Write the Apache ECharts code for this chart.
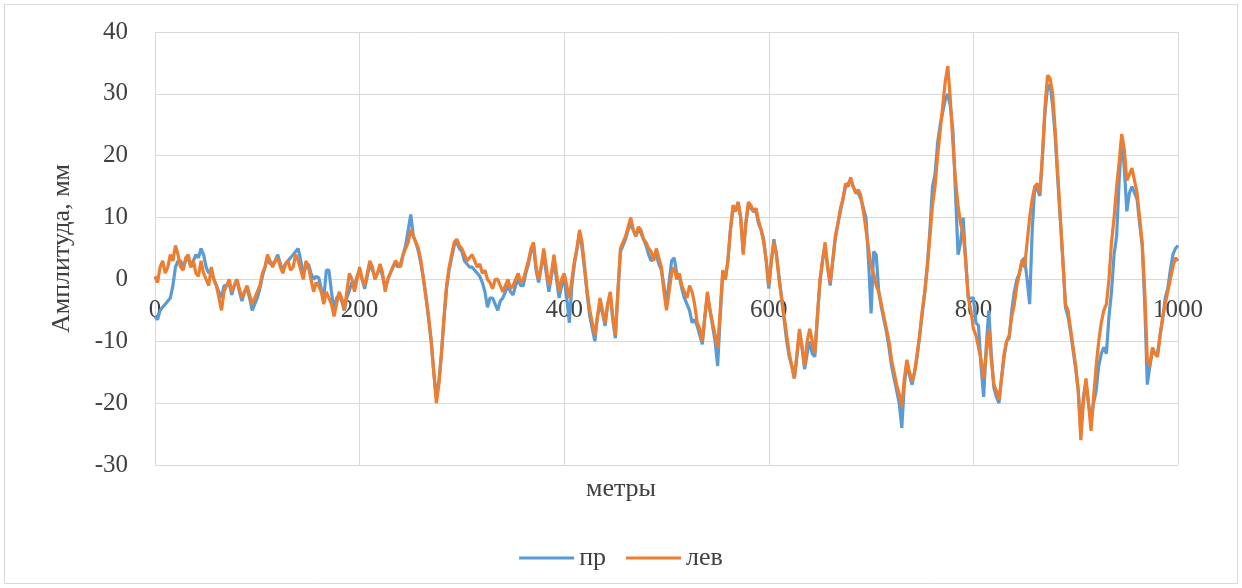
<!DOCTYPE html>
<html>
<head>
<meta charset="utf-8">
<script src="https://cdn.jsdelivr.net/npm/echarts@6/dist/echarts.min.js"></script>
<style>
  html, body { margin: 0; padding: 0; background: #fff; }
  #chart { width: 1242px; height: 588px; }
</style>
</head>
<body>
<div id="chart"></div>
<script>
// Distance along the track, metres (every 2.5 m)
const metres = [];
for (let i = 0; i <= 400; i++) metres.push(i * 2.5);

// Right rail amplitude, mm
const rightRail = [
  -6, -6.5, -5, -4.5, -4, -3.5, -3, -1, 2, 3, 3, 2, 3, 3.5, 2, 3, 4, 3.5, 5, 4,
  2, 1, 1.5, 0, -1, -2, -3, -1, -1, -0.5, -2.5, -1, 0, -2, -3.5, -2, -1.5, -3, -5, -4,
  -3, -1.5, 0.5, 2, 3.5, 2.5, 2.5, 3, 4, 2.5, 1.5, 2.5, 3, 3.5, 4, 4.5, 5, 3, 1, 2,
  2.5, 1, 0, 0.5, 0.3, -1.5, -3, 1.5, 1.5, -2, -5, -3, -2.5, -3.5, -5, -3, -1.8, -0.5, -1, 0.5,
  1.5, 0, -1.5, 0.5, 2.5, 1.5, 0.5, 1, 2, 0.5, -1.5, 0, 1, 2, 2.5, 2, 2.5, 4, 5.5, 8,
  10.5, 7, 6, 4.5, 2.5, 0, -3, -6.5, -10, -15, -19, -16.5, -12, -6.5, -1.5, 1.5, 3.5, 5.5, 6, 5,
  4.5, 3, 2.5, 2, 2, 1.5, 1, 0.5, -0.5, -2, -4.5, -3, -3, -4, -5, -3.5, -3, -2, -1, -2,
  -2.5, -1, 0, -1, -1, 1, 2.5, 4.5, 5.5, 1.5, -0.5, 2, 4, 1, -2, 0.5, 3, 0, -3, -1,
  0, -3, -7, -1, 2.5, 5, 7.5, 5, 1.5, -2.5, -6, -8, -10, -6, -4, -5.5, -7.5, -4, -2.5, -6.5,
  -9.5, -2, 4.5, 5.5, 6.5, 8, 9, 8, 7, 8, 7.5, 6.5, 5.5, 4, 3, 3.5, 4, 2.5, 1.5, -1,
  -4, -0.5, 3, 3.5, 1, 0.5, -1.5, -3, -4, -5, -7, -6.5, -7.5, -9, -10.5, -6, -2.5, -5, -7.5, -10,
  -14, -6, 1, 0, 3, 8, 11.5, 11, 12.5, 10, 4.5, 9, 12, 11.5, 11, 11, 9, 8, 6.5, 3,
  -1.5, 3, 6.5, 4, 0.5, -3, -6.5, -10, -12.5, -14, -16, -12.5, -8.5, -11, -14.5, -12, -10, -12, -12.5, -6,
  -0.5, 3, 5.5, 2, -1, 3, 6.5, 9, 11, 13, 15, 15.5, 16, 15, 14, 14, 13, 11.5, 10, 3,
  -5.5, 4.5, 4, -2, -4.5, -6.5, -8.5, -11, -14, -16, -18, -20, -24, -17, -13.5, -15.5, -17, -15, -12.5, -9,
  -5.5, -2, 2.5, 8, 15, 17, 22, 25, 27, 29, 30, 28, 24, 14, 4, 6, 10, 3, -3, -3,
  -3, -7, -7.5, -14, -19, -11, -5, -12, -17.5, -19, -20, -16, -12.5, -10, -9.5, -5, -2, 0, 1, 3,
  3.5, 0, -4, 8, 15, 14.5, 13.5, 20, 27, 31, 31.5, 28, 23, 16, 9.5, 3, -4.5, -6, -8.5, -11.5,
  -14.5, -18, -24.5, -19, -16.5, -20, -23, -20, -18, -14, -12, -11, -12, -6, -2, 4, 7, 16, 23, 18,
  11, 14, 15, 14, 13, 9, 5.5, -4, -17, -14, -11.5, -12, -12, -9, -6.5, -3, -1.5, 1.5, 4, 5,
  5.5
];

// Left rail amplitude, mm
const leftRail = [
  0.5, -0.5, 2, 3, 1, 2, 4, 3, 5.5, 4, 2, 1.5, 3.5, 4, 2, 3, 1, 0.5, 3, 1,
  0, -1, 2, 0, -1, -3, -5, -2, -1, 0, -2, -1, 0, -1.5, -3, -2, -1, -2.5, -4, -3,
  -2, -1, 1, 2, 4, 3, 2, 3, 3.5, 2, 1, 2.5, 3, 1.5, 2, 4, 3, 1.5, 0, 3,
  2, 0, -2, -0.5, -1, -2, -4, -2, -3, -4, -6, -4, -2, -3, -5, -2, 1, 0, -2, 0,
  2, 0, -1, 1, 3, 2, 0, 1, 2.5, 1, -2, 0, 1, 2, 3, 2.5, 2, 4, 5, 6,
  8, 7, 6, 5, 3, 0, -3, -6, -10, -15, -20, -17, -12, -6, -1, 2, 4, 6, 6.5, 5.5,
  5, 4, 3, 3.5, 4, 3, 2, 2.5, 1, 1.5, 0, -0.5, -1.5, 0, 0, -1, -2, -1, 0, -1.5,
  -1, 0, 1, -0.5, 0, 1.5, 3, 5, 6, 2, 0, 2, 5, 2, -1, 1, 4, 1, -2, 0,
  1, -1, -3, 0, 3, 5, 8, 6, 2, -2, -5, -7, -9, -6, -3, -5, -7, -4, -2, -6,
  -9, -2, 5, 6, 7, 8.5, 10, 8, 7, 8.5, 8, 6.5, 6, 5, 4.5, 3, 5, 3.5, 2, -2,
  -5, -2, 1, 2, 0, 1, -1, -2, -3, -1, -2, -4, -7, -8, -10, -6, -2, -5, -7, -9,
  -11, -5, 1.5, 0, 3, 8, 12, 11, 12.5, 10, 4, 9, 12.5, 12, 11, 11.5, 9.5, 8, 6, 3,
  -1, 3, 6, 4, 0, -3, -6, -9, -12, -14, -16, -12, -8, -11, -14, -10, -8, -10, -12, -6,
  0, 3, 6, 2, -0.5, 3, 7, 9, 11.5, 13, 15.5, 15, 16.5, 15, 14, 14.5, 13.5, 11, 8, 5,
  2, 1, -1, -2, -4, -6, -8, -10, -13, -15, -17, -18.5, -20.5, -16, -13, -15, -16.5, -15, -12, -9,
  -5, -2, 2, 7, 12, 15, 20, 24, 28, 32, 34.5, 29, 22, 16, 12, 9, 7.5, 3, -3, -5,
  -8, -9, -11, -13, -16, -12, -8, -13, -17, -18, -19.5, -16, -12, -10, -9, -6, -4, -1, 1, 3,
  2, 6, 10, 13, 15, 15.5, 14, 20, 28, 33, 32.5, 30, 24, 17, 10, 3, -4, -5, -8, -11,
  -14, -18, -26, -20, -16, -20, -24.5, -19, -14, -10, -7, -5, -4, 0, 6, 10, 15, 19, 23.5, 21,
  16, 17, 18, 16, 14, 10, 6, -2, -13, -14, -11, -12, -12.5, -9, -6, -4, -2, 0, 2, 3.5,
  3
];

const seriesNames = ['пр', 'лев'];
const xTicks = { min: 0, max: 1000, step: 200 };
const yTicks = { min: -30, max: 40, step: 10 };

const serif = '"Liberation Serif", "DejaVu Serif", serif';
const textColor = '#404040';
const gridColor = '#d9d9d9';

const toPairs = vals => metres.map((m, i) => [m, vals[i]]);

const chart = echarts.init(document.getElementById('chart'));
chart.setOption({
  animation: false,
  backgroundColor: '#ffffff',
  graphic: [
    {
      type: 'rect',
      shape: { x: 4.5, y: 4.5, width: 1233, height: 579 },
      style: { fill: 'none', stroke: '#d9d9d9', lineWidth: 1 },
      silent: true
    },
    {
      type: 'text',
      left: 'center',
      top: 476,
      style: { text: 'метры', font: '26px ' + serif, fill: textColor }
    }
  ],
  grid: { left: 155, right: 64, top: 32, bottom: 123 },
  legend: {
    bottom: 12,
    left: 'center',
    itemWidth: 55,
    itemHeight: 3,
    itemGap: 20,
    icon: 'rect',
    textStyle: { fontFamily: serif, fontSize: 26, color: textColor },
    data: seriesNames
  },
  xAxis: {
    type: 'value',
    min: xTicks.min,
    max: xTicks.max,
    interval: xTicks.step,
    axisLine: { show: false, onZero: false },
    axisTick: { show: false },
    // tick labels sit just under the zero line, inside the plot
    axisLabel: {
      margin: -167,
      fontFamily: serif,
      fontSize: 25,
      color: textColor,
      formatter: v => String(v)
    },
    splitLine: { show: true, lineStyle: { color: gridColor, width: 1 } }
  },
  yAxis: {
    type: 'value',
    min: yTicks.min,
    max: yTicks.max,
    interval: yTicks.step,
    name: 'Амплитуда, мм',
    nameLocation: 'middle',
    nameGap: 80,
    nameTextStyle: { fontFamily: serif, fontSize: 26, color: textColor },
    axisLine: { show: false },
    axisTick: { show: false },
    axisLabel: { margin: 27, fontFamily: serif, fontSize: 25, color: textColor },
    splitLine: { lineStyle: { color: gridColor, width: 1 } }
  },
  series: [
    {
      name: seriesNames[0],
      type: 'line',
      data: toPairs(rightRail),
      showSymbol: false,
      color: '#5b9bd5',
      lineStyle: { width: 3.2, color: '#5b9bd5' }
    },
    {
      name: seriesNames[1],
      type: 'line',
      data: toPairs(leftRail),
      showSymbol: false,
      color: '#ed7d31',
      lineStyle: { width: 3.2, color: '#ed7d31' }
    }
  ]
});
</script>
</body>
</html>
